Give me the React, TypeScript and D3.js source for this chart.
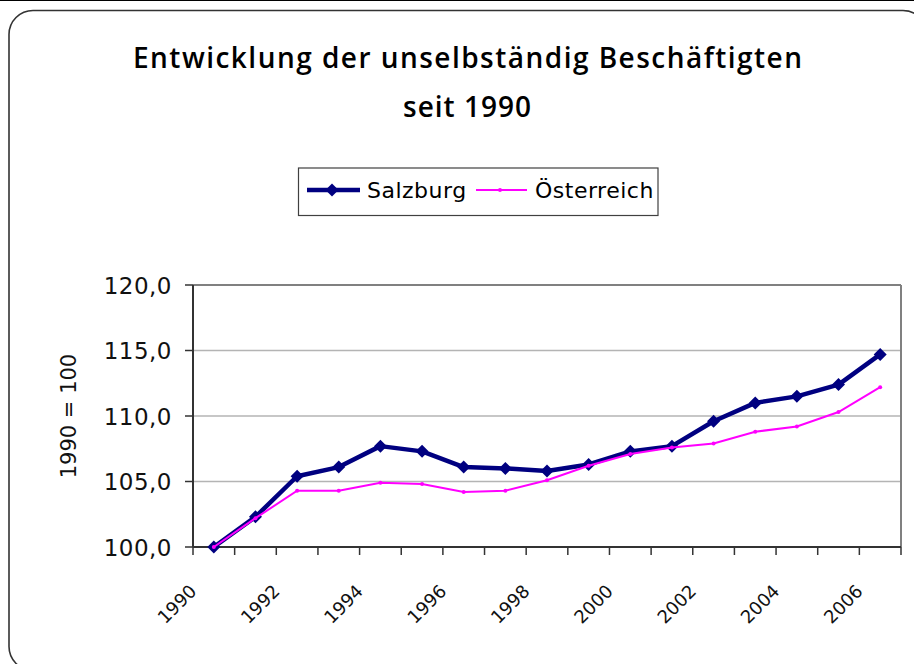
import React from "react";
import * as d3 from "d3";

const years = [1990, 1991, 1992, 1993, 1994, 1995, 1996, 1997, 1998, 1999, 2000, 2001, 2002, 2003, 2004, 2005, 2006];
const salzburg = [100.0, 102.3, 105.4, 106.1, 107.7, 107.3, 106.1, 106.0, 105.8, 106.3, 107.3, 107.7, 109.6, 111.0, 111.5, 112.4, 114.7];
const oesterreich = [100.0, 102.2, 104.3, 104.3, 104.9, 104.8, 104.2, 104.3, 105.1, 106.2, 107.1, 107.6, 107.9, 108.8, 109.2, 110.3, 112.2];
const yTicks = [100, 105, 110, 115, 120];
const xLabelYears = [1990, 1992, 1994, 1996, 1998, 2000, 2002, 2004, 2006];
const seriesNames = ["Salzburg", "Österreich"];
const titleLines = ["Entwicklung der unselbständig Beschäftigten", "seit 1990"];
const yTitle = "1990 = 100";

const W = 914;
const H = 664;
const L = 193, R = 901, T = 285, B = 547;
const font = "'DejaVu Sans', Verdana, sans-serif";
const titleFont = "'Open Sans', 'Noto Sans', sans-serif";

export default function App() {
  const x = d3.scaleBand<number>().domain(years).range([L, R]).padding(0);
  const y = d3.scaleLinear().domain([100, 120]).range([B, T]);
  const cx = (yr: number) => (x(yr) as number) + x.bandwidth() / 2;
  const line = d3.line<number>().x((_, i) => cx(years[i])).y((v) => y(v));
  const diamond = (px: number, py: number, r: number) =>
    `M${px},${py - r}L${px + r},${py}L${px},${py + r}L${px - r},${py}Z`;
  const fmt = (v: number) => v.toFixed(1).replace(".", ",");
  const xTickPos = years.map((yr) => x(yr) as number).concat([R]);

  return (
    <svg width={W} height={H} style={{ position: "absolute", left: 0, top: 0, background: "#fff" }}>
      <rect x={0} y={0} width={W} height={H} fill="#fff" />
      <line x1={0} x2={W} y1={0.5} y2={0.5} stroke="#000" strokeWidth={1} />
      <rect x={9} y={10.5} width={918} height={660} rx={24} ry={24} fill="#fff" stroke="#333" strokeWidth={1.6} />

      {/* title */}
      <text x={467.5} y={67.5} textAnchor="middle" fontFamily={titleFont} fontWeight={600} fontSize={28}
        textLength={669} lengthAdjust="spacing">{titleLines[0]}</text>
      <text x={467.5} y={117} textAnchor="middle" fontFamily={titleFont} fontWeight={600} fontSize={28}
        letterSpacing={1}>{titleLines[1]}</text>

      {/* legend */}
      <rect x={298.5} y={168} width={359.5} height={47.5} fill="#fff" stroke="#404040" strokeWidth={1.2} />
      <line x1={307} x2={360} y1={190} y2={190} stroke="#000080" strokeWidth={4.5} />
      <path d={diamond(332, 190, 6.5)} fill="#000080" />
      <text x={367} y={198} fontFamily={font} fontSize={22} letterSpacing={0.5} fill="#000">{seriesNames[0]}</text>
      <line x1={476} x2={527} y1={190} y2={190} stroke="#ff00ff" strokeWidth={2} />
      <circle cx={500} cy={190} r={2} fill="#ff00ff" />
      <text x={535} y={198} fontFamily={font} fontSize={22} letterSpacing={0.5} fill="#000">{seriesNames[1]}</text>

      {/* gridlines */}
      {yTicks.filter((t) => t !== 100 && t !== 120).map((t) => (
        <line key={t} x1={L} x2={R} y1={y(t)} y2={y(t)} stroke="#b4b4b4" strokeWidth={1.3} />
      ))}
      {/* plot border top/right */}
      <line x1={L} x2={R} y1={T} y2={T} stroke="#808080" strokeWidth={2} />
      <line x1={R} x2={R} y1={T} y2={B} stroke="#808080" strokeWidth={2} />

      {/* axes */}
      <line x1={L} x2={L} y1={T} y2={B} stroke="#333" strokeWidth={2} />
      <line x1={L} x2={R} y1={B} y2={B} stroke="#333" strokeWidth={2} />
      {yTicks.map((t) => (
        <g key={t}>
          <line x1={L - 8} x2={L} y1={y(t)} y2={y(t)} stroke="#333" strokeWidth={1.5} />
          <text x={172} y={y(t) + 8.5} textAnchor="end" fontFamily={font} fontSize={23} letterSpacing={0.5} fill="#111">{fmt(t)}</text>
        </g>
      ))}
      {xTickPos.map((p, i) => (
        <line key={i} x1={p} x2={p} y1={B} y2={B + 8} stroke="#333" strokeWidth={1.5} />
      ))}
      {xLabelYears.map((yr) => {
        const px = cx(yr) - 37;
        const py = 604;
        return (
          <text key={yr} x={px} y={py} textAnchor="middle" dominantBaseline="central" fontFamily={font} fontSize={18}
            fill="#111" transform={`rotate(-45 ${px} ${py})`}>{yr}</text>
        );
      })}
      <text x={69} y={416} textAnchor="middle" dominantBaseline="central" fontFamily={font} fontSize={21} fill="#111"
        transform={`rotate(-90 69 416)`}>{yTitle}</text>

      {/* series */}
      <path d={line(salzburg) || ""} fill="none" stroke="#000080" strokeWidth={4.5} strokeLinejoin="round" />
      {salzburg.map((v, i) => (
        <path key={i} d={diamond(cx(years[i]), y(v), 6.5)} fill="#000080" />
      ))}
      <path d={line(oesterreich) || ""} fill="none" stroke="#ff00ff" strokeWidth={2} />
      {oesterreich.map((v, i) => (
        <circle key={i} cx={cx(years[i])} cy={y(v)} r={2} fill="#ff00ff" />
      ))}
    </svg>
  );
}
